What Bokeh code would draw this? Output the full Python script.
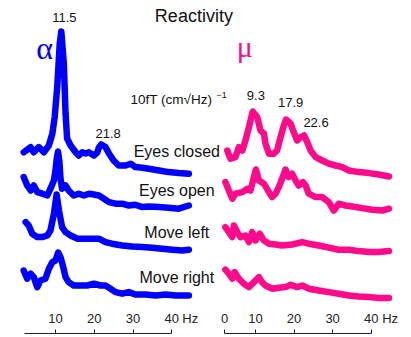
import numpy as np
from bokeh.plotting import figure
from bokeh.models import Range1d, LinearAxis, FixedTicker
from bokeh.core.properties import value
from bokeh.embed import file_html
from bokeh.resources import INLINE

# ---- data -------------------------------------------------------------
conditions = ["Eyes closed", "Eyes open", "Move left", "Move right"]
row_offset = [80, 62, 42, 20]          # vertical stacking of the four rows
label_y = [93, 73.5, 52.5, 30]         # heights of the row captions

# alpha (left column): frequency (Hz) and amplitude per condition
alpha_closed_f = [1.8, 3.6, 4.4, 5.7, 7.0, 8.3, 9.2, 9.8, 10.45, 11.1, 11.5, 12.15, 12.6, 13.0,
                  13.9, 15.2, 16.0, 16.9, 17.75, 18.6, 19.9, 20.8, 21.2, 21.8, 22.9, 23.8, 25.0,
                  26.3, 28.1, 29.4, 30.6, 32.4, 34.1, 36.7, 39.2, 41.8, 44.4]
alpha_closed_a = [12.6, 15.2, 12.6, 15.2, 12.6, 16.0, 22.0, 30.2, 45.2, 66.9, 73.0, 56.9, 32.0, 19.5,
                  16.0, 12.6, 11.0, 12.6, 12.0, 12.6, 11.0, 12.6, 15.0, 16.5, 15.2, 12.0, 8.5,
                  6.0, 6.0, 6.9, 5.2, 4.9, 4.4, 3.5, 2.7, 2.2, 1.9]

alpha_open_f = [1.8, 2.7, 3.6, 4.4, 5.3, 6.6, 7.9, 8.7, 9.6, 10.0, 10.3, 10.65, 11.0, 11.3, 11.7,
                12.6, 13.4, 14.7, 16.0, 17.3, 18.6, 19.9, 21.2, 22.5, 23.8, 25.5, 27.2, 28.9,
                30.6, 32.4, 34.1, 36.7, 39.2, 41.8, 44.4]
alpha_open_a = [18.2, 14.0, 11.5, 14.0, 10.7, 9.9, 9.0, 12.4, 16.5, 21.5, 27.0, 31.0, 26.0, 17.5, 12.4,
                14.0, 11.5, 9.0, 9.9, 9.0, 9.9, 9.5, 9.0, 7.4, 5.7, 4.9, 4.9, 4.0,
                4.4, 3.2, 3.5, 3.2, 2.9, 2.4, 4.0]

alpha_left_f = [2.3, 3.1, 4.0, 5.3, 6.6, 7.9, 8.7, 9.6, 10.3, 10.9, 11.7, 12.6, 13.9, 15.6, 17.3,
                19.0, 21.2, 22.9, 24.6, 27.2, 29.8, 32.4, 35.0, 37.5, 40.1, 42.7, 44.4]
alpha_left_a = [15.7, 14.0, 9.9, 8.2, 8.2, 9.0, 11.5, 19.9, 29.5, 21.5, 13.2, 10.7, 9.0, 7.4, 7.4,
                7.4, 7.4, 5.7, 4.9, 4.0, 3.5, 3.2, 2.9, 2.4, 1.9, 1.5, 1.9]

alpha_right_f = [1.8, 2.7, 3.6, 4.4, 5.3, 6.1, 7.4, 8.3, 9.2, 10.0, 10.7, 11.3, 11.9, 12.6, 13.4,
                 14.7, 16.5, 18.2, 19.9, 21.6, 22.9, 24.2, 25.5, 27.2, 28.9, 30.6, 33.2, 35.8,
                 38.4, 41.0, 44.4]
alpha_right_a = [13.5, 9.4, 11.9, 10.2, 5.2, 8.5, 9.4, 14.4, 17.7, 18.5, 22.5, 20.2, 16.0, 10.2, 7.7,
                 6.0, 6.0, 6.0, 6.9, 6.0, 6.0, 4.4, 2.7, 1.9, 2.7, 1.5, 1.5, 1.0,
                 1.5, 1.0, 1.0]

# mu (right column)
mu_closed_f = [2.7, 3.5, 4.8, 5.7, 6.6, 7.4, 8.3, 9.3, 10.45, 11.3, 12.2, 12.6, 13.5, 14.75, 15.6,
               16.5, 17.35, 17.9, 19.1, 19.9, 20.8, 21.7, 22.6, 23.4, 24.3, 25.6, 27.3, 29.0,
               30.75, 32.5, 34.2, 36.8, 39.4, 42.0, 44.6]
mu_closed_a = [13.5, 9.4, 10.2, 15.2, 13.5, 18.5, 25.2, 33.0, 30.2, 23.5, 21.9, 16.9, 11.9, 11.9, 13.5,
               20.2, 26.0, 29.0, 26.9, 22.7, 18.5, 20.2, 21.0, 17.7, 13.5, 10.2, 8.5, 6.9,
               6.0, 5.2, 3.5, 2.7, 2.2, 1.5, 0.5]

mu_open_f = [2.2, 3.1, 4.0, 4.8, 6.6, 7.9, 8.7, 9.6, 10.1, 10.9, 12.2, 13.5, 14.3, 15.2, 16.05,
             16.9, 17.8, 18.6, 19.5, 20.4, 21.2, 22.3, 23.0, 23.8, 25.6, 27.3, 29.0, 30.3,
             31.6, 33.3, 35.1, 37.7, 40.3, 42.9, 44.6]
mu_open_a = [15.7, 11.5, 7.4, 9.9, 10.7, 12.4, 11.5, 18.2, 22.0, 16.5, 14.9, 10.7, 8.2, 9.9, 13.2,
             17.4, 22.0, 18.2, 19.9, 16.5, 14.0, 15.7, 14.0, 9.9, 8.2, 8.2, 5.7, 1.5,
             4.9, 4.0, 3.5, 2.7, 1.9, 1.5, 2.4]

mu_left_f = [2.2, 3.1, 4.0, 4.4, 5.3, 6.1, 7.4, 8.3, 9.15, 10.0, 11.1, 12.2, 13.5, 15.2, 16.9,
             19.5, 22.1, 23.8, 26.4, 29.0, 31.6, 34.2, 36.8, 39.4, 42.0, 44.6]
mu_left_a = [13.2, 10.7, 8.2, 14.0, 10.7, 8.2, 9.0, 5.7, 10.7, 6.5, 9.9, 6.5, 4.9, 4.5, 4.0,
             4.5, 5.7, 4.9, 4.0, 2.9, 1.9, 1.9, 1.2, 0.7, 0.7, 1.2]

mu_right_f = [2.2, 3.1, 4.0, 4.6, 5.7, 7.0, 8.3, 9.6, 10.9, 11.7, 12.6, 14.3, 16.05, 17.8, 19.1,
              20.8, 22.1, 23.8, 26.4, 29.0, 31.6, 34.2, 36.8, 39.4, 42.0, 44.6]
mu_right_a = [13.9, 11.9, 9.4, 12.7, 9.4, 6.9, 5.2, 7.7, 10.2, 7.7, 6.0, 4.4, 4.9, 5.2, 6.4,
              5.2, 6.0, 4.4, 3.5, 2.7, 1.9, 1.0, 0.5, 0.2, -0.2, -0.2]

# peak frequencies annotated on the eyes-closed spectra
alpha_peaks = [11.5, 21.8]
mu_peaks = [9.3, 17.9, 22.6]

alpha_ticks = [10, 20, 30, 40]
mu_ticks = [2, 10, 20, 30, 40]
mu_tick_labels = {2: "0"}

# ---- styling ----------------------------------------------------------
ALPHA_COLOR = "#0000ff"
MU_COLOR = "#ff0a8a"
TEXT_COLOR = "#111111"
SANS = "Liberation Sans"
SERIF = "Liberation Serif"
TRACE_WIDTH = 6.5

p = figure(width=411, height=337, output_backend="svg", toolbar_location=None,
           x_range=Range1d(-4.18, 101.83), y_range=Range1d(0, 168.5),
           x_axis_location=None, y_axis_location=None, min_border=0)
p.extra_x_ranges = {"mu": Range1d(-56.1, 50.45)}
p.grid.visible = False
p.outline_line_color = None
p.background_fill_color = "white"
p.border_fill_color = "white"

alpha_rows = [(alpha_closed_f, alpha_closed_a), (alpha_open_f, alpha_open_a),
              (alpha_left_f, alpha_left_a), (alpha_right_f, alpha_right_a)]
mu_rows = [(mu_closed_f, mu_closed_a), (mu_open_f, mu_open_a),
           (mu_left_f, mu_left_a), (mu_right_f, mu_right_a)]

for off, (f, a) in zip(row_offset, alpha_rows):
    p.line(f, np.array(a) + off, line_width=TRACE_WIDTH, color=ALPHA_COLOR,
           line_join="round", line_cap="round")
for off, (f, a) in zip(row_offset, mu_rows):
    p.line(f, np.array(a) + off, line_width=TRACE_WIDTH, color=MU_COLOR,
           line_join="round", line_cap="round", x_range_name="mu")


def add_text(x, y, s, size, color=TEXT_COLOR, font=SANS, align="center", range_name="default"):
    p.text(x, y, text=s, text_align=align, text_baseline="middle",
           text_font=value(font), text_font_size=size, text_color=color,
           x_range_name=range_name)


# peak value labels above the eyes-closed spectra
def peak_labels(peaks, f, a, dx, dy, range_name="default"):
    ys = [np.interp(pk, f, a) + row_offset[0] + d for pk, d in zip(peaks, dy)]
    xs = [pk + d for pk, d in zip(peaks, dx)]
    add_text(xs, ys, [f"{pk}" for pk in peaks], "13px", range_name=range_name)


peak_labels(alpha_peaks, alpha_closed_f, alpha_closed_a, dx=[0.8, 1.8], dy=[7.2, 5.5])
peak_labels(mu_peaks, mu_closed_f, mu_closed_a, dx=[0.8, 1.2, 3.1], dy=[7.9, 8.5, 6.4],
            range_name="mu")

# row captions
add_text([41.3] * 4, label_y, conditions, "16px")

# title and rhythm symbols
add_text([45.7], [160.8], ["Reactivity"], "18px")
add_text([7.2], [144.8], ["α"], "32px", color=ALPHA_COLOR, font=SERIF)
add_text([7.2], [145.5], ["μ"], "30px", color=MU_COLOR, font=SERIF, range_name="mu")

# amplitude unit
add_text([29.35], [118.9], ["10fT  (cm√Hz)"], "13.5px", align="left")
add_text([51.5], [121.2], ["−1"], "9px", align="left")


# frequency axes, drawn along the bottom with labels above the line
def freq_axis(ticks, overrides=None, range_name="default"):
    ax = LinearAxis(ticker=FixedTicker(ticks=ticks), bounds=(2, 40), fixed_location=2,
                    x_range_name=range_name)
    if overrides:
        ax.major_label_overrides = overrides
    ax.axis_line_color = "#222222"
    ax.axis_line_width = 1
    ax.major_tick_line_color = "#222222"
    ax.major_tick_in = 0
    ax.major_tick_out = 4
    ax.minor_tick_line_color = None
    ax.major_label_standoff = 7
    ax.major_label_text_font = SANS
    ax.major_label_text_font_size = "13px"
    ax.major_label_text_color = "#222222"
    p.add_layout(ax, "above")


freq_axis(alpha_ticks)
freq_axis(mu_ticks, mu_tick_labels, "mu")

add_text([42.7], [9.5], ["Hz"], "13px", color="#222222", align="left")
add_text([42.86], [9.5], ["Hz"], "13px", color="#222222", align="left", range_name="mu")

open("out.html", "w").write(file_html(p, INLINE))
